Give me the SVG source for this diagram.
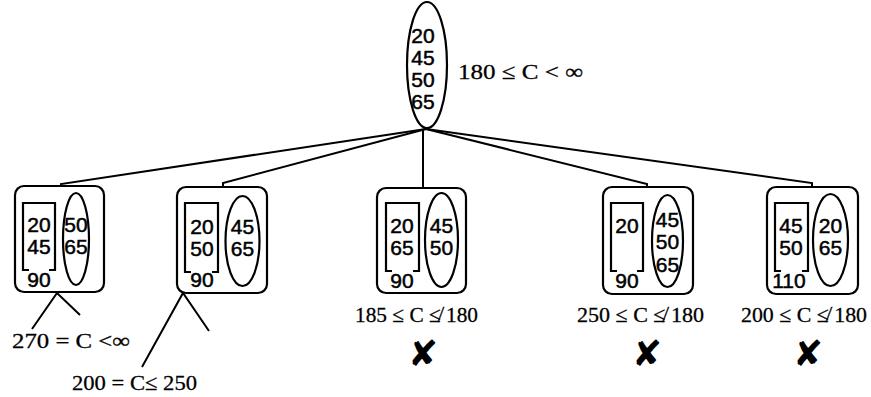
<svg xmlns="http://www.w3.org/2000/svg" width="871" height="397" viewBox="0 0 871 397">
<style>
.shape{fill:none;stroke:#000;stroke-width:2.2}
.edge{fill:none;stroke:#000;stroke-width:2}
.num{font-family:"Liberation Sans","DejaVu Sans",sans-serif;font-size:21px;text-anchor:middle;fill:#000;stroke:#000;stroke-width:0.5}
.lbl{font-family:"Liberation Serif","DejaVu Serif",serif;font-size:22px;fill:#000;stroke:#000;stroke-width:0.3}
.x{font-family:"DejaVu Sans",sans-serif;font-size:36px;text-anchor:middle;fill:#000}
</style>
<rect width="871" height="397" fill="#fff"/>
<g id="connectors">
<polyline class="edge" points="426,129 61,184 61,187"/>
<polyline class="edge" points="426,129 223,183 223,187"/>
<polyline class="edge" points="423,129 423,188"/>
<polyline class="edge" points="426,129 647,184 647,187"/>
<polyline class="edge" points="426,129 812,183 812,187"/>
<polyline class="edge" points="32,329 57,293 80,315"/>
<polyline class="edge" points="142,367 183,293 209,331"/>
</g>
<g id="root">
<ellipse class="shape" cx="427" cy="65" rx="20" ry="63"/>
<text class="num" x="423" y="43">20</text>
<text class="num" x="423" y="65">45</text>
<text class="num" x="423" y="87">50</text>
<text class="num" x="423" y="109">65</text>
<text class="lbl" x="458" y="79" textLength="125" lengthAdjust="spacingAndGlyphs">180 ≤ C &lt; ∞</text>
</g>
<g id="n1">
<rect class="shape" x="15" y="186" width="89" height="106" rx="9"/>
<path class="shape" d="M29 270H23V203H55V270H49"/>
<text class="num" x="39" y="232">20</text>
<text class="num" x="39" y="254">45</text>
<text class="num" x="39" y="287">90</text>
<ellipse class="shape" cx="76" cy="239" rx="13" ry="46"/>
<text class="num" x="76" y="232">50</text>
<text class="num" x="76" y="254">65</text>
<text class="lbl" x="12" y="348" textLength="118" lengthAdjust="spacingAndGlyphs">270 = C &lt;∞</text>
</g>
<g id="n2">
<rect class="shape" x="177" y="187" width="90" height="106" rx="9"/>
<path class="shape" d="M191 272H185V203H218V272H212"/>
<text class="num" x="202" y="234">20</text>
<text class="num" x="202" y="256">50</text>
<text class="num" x="202" y="287">90</text>
<ellipse class="shape" cx="242.5" cy="241" rx="17" ry="45"/>
<text class="num" x="242.5" y="234">45</text>
<text class="num" x="242.5" y="256">65</text>
<text class="lbl" x="72" y="390" textLength="125" lengthAdjust="spacingAndGlyphs">200 = C≤ 250</text>
</g>
<g id="n3">
<rect class="shape" x="377" y="188" width="89" height="105" rx="9"/>
<path class="shape" d="M392 271H386V203H419V271H413"/>
<text class="num" x="402" y="233">20</text>
<text class="num" x="402" y="255">65</text>
<text class="num" x="402" y="288">90</text>
<ellipse class="shape" cx="441.5" cy="240" rx="16.5" ry="47"/>
<text class="num" x="441.5" y="233">45</text>
<text class="num" x="441.5" y="255">50</text>
<text class="lbl" x="355" y="322" textLength="123" lengthAdjust="spacingAndGlyphs">185 ≤ C ≰ 180</text>
<text class="x" x="423" y="366">✘</text>
</g>
<g id="n4">
<rect class="shape" x="603" y="187" width="90" height="107" rx="9"/>
<path class="shape" d="M617 271H611V203H643V271H637"/>
<text class="num" x="627" y="233">20</text>
<text class="num" x="627" y="288">90</text>
<ellipse class="shape" cx="667.5" cy="241" rx="15.5" ry="46"/>
<text class="num" x="667.5" y="227">45</text>
<text class="num" x="667.5" y="249">50</text>
<text class="num" x="667.5" y="272">65</text>
<text class="lbl" x="577" y="322" textLength="127" lengthAdjust="spacingAndGlyphs">250 ≤ C ≰ 180</text>
<text class="x" x="647" y="366">✘</text>
</g>
<g id="n5">
<rect class="shape" x="767" y="187" width="91" height="107" rx="9"/>
<path class="shape" d="M781 271H775V203H808V271H802"/>
<text class="num" x="791" y="233">45</text>
<text class="num" x="791" y="255">50</text>
<text class="num" x="789" y="288">110</text>
<ellipse class="shape" cx="830.5" cy="240" rx="17.5" ry="46"/>
<text class="num" x="830.5" y="233">20</text>
<text class="num" x="830.5" y="255">65</text>
<text class="lbl" x="741" y="322" textLength="126" lengthAdjust="spacingAndGlyphs">200 ≤ C ≰ 180</text>
<text class="x" x="808" y="366">✘</text>
</g>
</svg>
